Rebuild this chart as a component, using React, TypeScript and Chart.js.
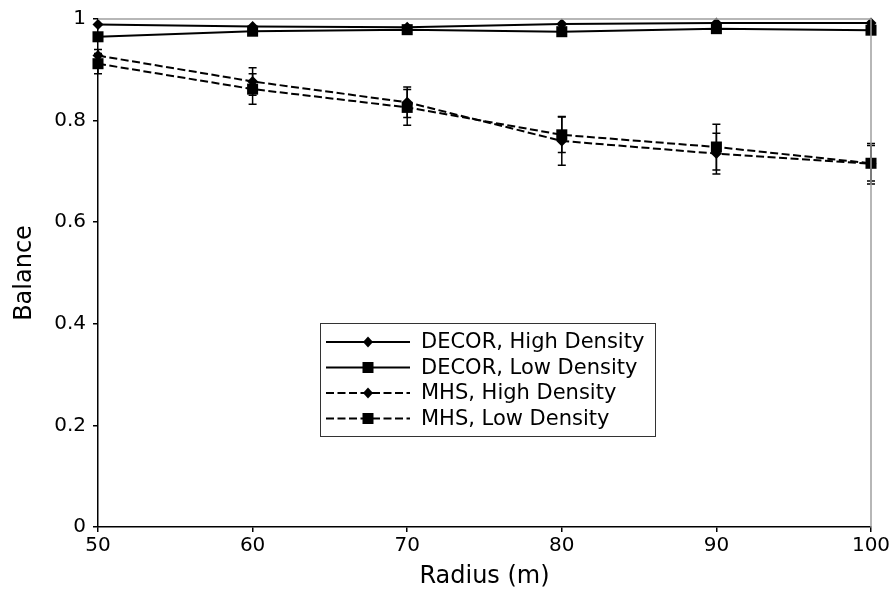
import React, { useEffect, useRef } from 'react';
import { Chart, registerables } from 'chart.js';

Chart.register(...registerables);

const radii = [50, 60, 70, 80, 90, 100];
const decorHigh = [0.989, 0.985, 0.984, 0.990, 0.992, 0.992];
const decorLow = [0.965, 0.976, 0.979, 0.975, 0.981, 0.978];
const mhsHigh = [0.928, 0.877, 0.836, 0.760, 0.735, 0.715];
const mhsLow = [0.912, 0.862, 0.826, 0.772, 0.748, 0.716];
const mhsHighErr = [0.012, 0.027, 0.030, 0.048, 0.040, 0.040];
const mhsLowErr = [0.020, 0.030, 0.035, 0.035, 0.045, 0.035];
const seriesLabels = ['DECOR, High Density', 'DECOR, Low Density', 'MHS, High Density', 'MHS, Low Density'];
const xTitle = 'Radius (m)';
const yTitle = 'Balance';

const FONT = "'DejaVu Sans', sans-serif";
const DASH = [8, 3.5];

const errorBarPlugin = {
  id: 'errorBars',
  beforeDatasetsDraw(chart: any) {
    const ctx = chart.ctx;
    const xs = chart.scales.x;
    const ys = chart.scales.y;
    ctx.save();
    ctx.strokeStyle = '#000';
    ctx.lineWidth = 1.5;
    chart.data.datasets.forEach((ds: any) => {
      if (!ds.errors) return;
      ds.data.forEach((p: any, i: number) => {
        const e = ds.errors[i];
        const x = xs.getPixelForValue(p.x);
        const y1 = ys.getPixelForValue(p.y + e);
        const y2 = ys.getPixelForValue(p.y - e);
        ctx.beginPath();
        ctx.moveTo(x, y1);
        ctx.lineTo(x, y2);
        ctx.moveTo(x - 4, y1);
        ctx.lineTo(x + 4, y1);
        ctx.moveTo(x - 4, y2);
        ctx.lineTo(x + 4, y2);
        ctx.stroke();
      });
    });
    ctx.restore();
  },
};

const framePlugin = {
  id: 'frame',
  afterDatasetsDraw(chart: any) {
    const { ctx, chartArea } = chart;
    ctx.save();
    ctx.strokeStyle = '#a0a0a0';
    ctx.lineWidth = 1.5;
    ctx.beginPath();
    ctx.moveTo(chartArea.left, chartArea.top);
    ctx.lineTo(chartArea.right, chartArea.top);
    ctx.lineTo(chartArea.right, chartArea.bottom);
    ctx.stroke();
    ctx.restore();
  },
};

const legendPlugin = {
  id: 'customLegend',
  afterDraw(chart: any) {
    const ctx = chart.ctx;
    const left = 320;
    const top = 323;
    const w = 335;
    const h = 113;
    ctx.save();
    ctx.fillStyle = '#fff';
    ctx.fillRect(left, top, w, h);
    ctx.strokeStyle = '#333';
    ctx.lineWidth = 1;
    ctx.strokeRect(left + 0.5, top + 0.5, w, h);
    ctx.font = `21px ${FONT}`;
    ctx.textBaseline = 'middle';
    ctx.textAlign = 'left';
    chart.data.datasets.forEach((ds: any, i: number) => {
      const cy = top + 19 + i * 25.5;
      ctx.strokeStyle = '#000';
      ctx.lineWidth = 2;
      ctx.setLineDash(ds.borderDash || []);
      ctx.beginPath();
      ctx.moveTo(left + 6, cy);
      ctx.lineTo(left + 90, cy);
      ctx.stroke();
      ctx.setLineDash([]);
      const mx = left + 48;
      ctx.fillStyle = '#000';
      ctx.beginPath();
      if (ds.pointStyle === 'rect') {
        ctx.rect(mx - 5.5, cy - 5.5, 11, 11);
      } else {
        ctx.moveTo(mx, cy - 5.5);
        ctx.lineTo(mx + 5, cy);
        ctx.lineTo(mx, cy + 5.5);
        ctx.lineTo(mx - 5, cy);
        ctx.closePath();
      }
      ctx.fill();
      ctx.fillStyle = '#000';
      ctx.fillText(ds.label, left + 101, cy + 1);
    });
    ctx.restore();
  },
};

function App() {
  const ref = useRef<HTMLCanvasElement | null>(null);

  useEffect(() => {
    if (!ref.current) return;
    const mk = (vals: number[]) => radii.map((r, i) => ({ x: r, y: vals[i] }));
    const base = {
      borderColor: '#000',
      backgroundColor: '#000',
      pointBackgroundColor: '#000',
      pointBorderColor: '#000',
      borderWidth: 2,
      pointBorderWidth: 0,
      clip: false,
      tension: 0,
    };
    const chart = new Chart(ref.current, {
      type: 'line',
      data: {
        datasets: [
          { ...base, label: seriesLabels[0], data: mk(decorHigh), pointStyle: 'rectRot', pointRadius: 5.5 },
          { ...base, label: seriesLabels[1], data: mk(decorLow), pointStyle: 'rect', pointRadius: 7.8 },
          { ...base, label: seriesLabels[2], data: mk(mhsHigh), pointStyle: 'rectRot', pointRadius: 5.5, borderDash: DASH, errors: mhsHighErr },
          { ...base, label: seriesLabels[3], data: mk(mhsLow), pointStyle: 'rect', pointRadius: 7.8, borderDash: DASH, errors: mhsLowErr },
        ] as any,
      },
      options: {
        responsive: false,
        animation: false,
        events: [],
        layout: { padding: { top: 17, right: 23, left: 0, bottom: 0 } },
        plugins: { legend: { display: false }, tooltip: { enabled: false } },
        scales: {
          x: {
            type: 'linear',
            min: 50,
            max: 100,
            afterFit: (s: any) => { s.height = 72; },
            ticks: { stepSize: 10, color: '#000', font: { family: FONT, size: 20 }, padding: 2, maxRotation: 0 },
            grid: { display: true, drawOnChartArea: false, drawTicks: true, tickLength: 5, color: '#000', lineWidth: 1.5 },
            border: { display: true, color: '#000', width: 1.5 },
            title: { display: true, text: xTitle, color: '#000', font: { family: FONT, size: 24 }, padding: { top: 4, bottom: 8 } },
          },
          y: {
            type: 'linear',
            min: 0,
            max: 1,
            afterFit: (s: any) => { s.width = 98; },
            ticks: {
              stepSize: 0.2,
              color: '#000',
              font: { family: FONT, size: 20 },
              padding: 7,
              callback: (v: any) => {
                const n = Math.round(Number(v) * 10) / 10;
                if (n === 0) return '0';
                if (n === 1) return '1';
                return n.toFixed(1);
              },
            },
            grid: { display: true, drawOnChartArea: false, drawTicks: true, tickLength: 5, color: '#000', lineWidth: 1.5 },
            border: { display: true, color: '#000', width: 1.5 },
            title: { display: true, text: yTitle, color: '#000', font: { family: FONT, size: 24 }, padding: { top: 10, bottom: 4 } },
          },
        },
      } as any,
      plugins: [errorBarPlugin, framePlugin, legendPlugin],
    });
    return () => chart.destroy();
  }, []);

  return (
    <div style={{ position: 'fixed', left: 0, top: 0, width: 894, height: 599, background: '#fff' }}>
      <canvas ref={ref} width={894} height={599} style={{ display: 'block' }} />
    </div>
  );
}

export default App;
